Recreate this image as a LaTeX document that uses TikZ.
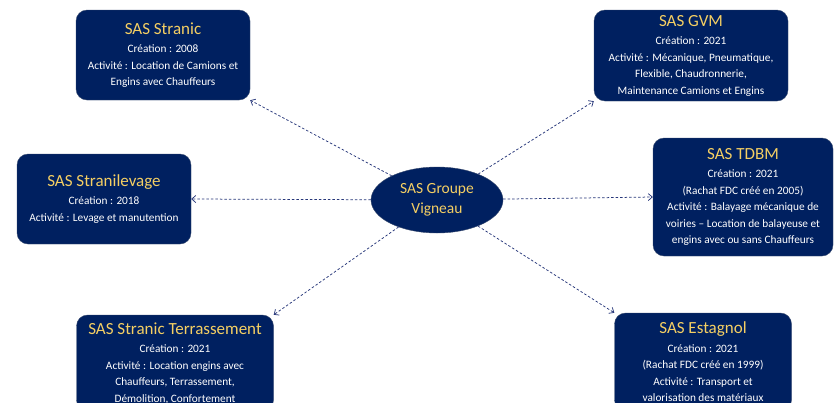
\documentclass[tikz,border=0pt]{standalone}
\usepackage{fontspec}
\setmainfont{Carlito}
\usetikzlibrary{shapes.geometric, arrows.meta}
\definecolor{navy}{HTML}{002060}
\definecolor{gold}{HTML}{F5CF63}
\definecolor{linkblue}{HTML}{27377A}
\tikzset{%
  company/.style={
    draw=navy!55!gray, fill=navy, rounded corners=11pt,
    text=white, align=center, inner sep=2pt,
    font=\fontsize{11.3}{16.5}\selectfont},
  holding/.style={
    ellipse, draw=navy!55!gray, fill=navy, text=gold, align=center,
    minimum width=132pt, minimum height=66pt, inner sep=0pt,
    font=\fontsize{15.5}{20}\selectfont},
  link/.style={draw=linkblue, line width=0.75pt, dash pattern=on 2.5pt off 2pt,
    -{Straight Barb[length=4pt, width=7pt, line width=0.75pt]}}
}
\newcommand{\coname}[1]{{\color{gold}\fontsize{17}{20}\selectfont #1}}

\begin{document}
\begin{tikzpicture}[x=1pt, y=-1pt]
		\useasboundingbox (0,0) rectangle (837,402);
		\clip (0,0) rectangle (837,402);
		\node [holding] (grp) at (437,200) {SAS Groupe\\Vigneau};
		\node [company, minimum width=174pt, minimum height=90pt] (stranic) at (163,55)
		  {\coname{SAS Stranic}\\[2pt] Création : 2008\\ Activité : Location de Camions et\\ Engins avec Chauffeurs};
		\node [company, minimum width=194pt, minimum height=91pt] (gvm) at (691,55.5)
		  {\coname{SAS GVM}\\[2pt] Création : 2021\\ Activité : Mécanique, Pneumatique,\\ Flexible, Chaudronnerie,\\ Maintenance Camions et Engins};
		\node [company, minimum width=174pt, minimum height=90pt] (levage) at (104,199)
		  {\coname{SAS Stranilevage}\\[2pt] Création : 2018\\ Activité : Levage et manutention};
		\node [company, minimum width=180pt, minimum height=118pt] (tdbm) at (743,197)
		  {\coname{SAS TDBM}\\[2pt] Création : 2021\\ (Rachat FDC créé en 2005)\\ Activité : Balayage mécanique de\\ voiries – Location de balayeuse et\\ engins avec ou sans Chauffeurs};
		\node [company, minimum width=197pt, minimum height=96pt] (terrass) at (175,363)
		  {\coname{SAS Stranic Terrassement}\\[2pt] Création : 2021\\ Activité : Location engins avec\\ Chauffeurs, Terrassement,\\ Démolition, Confortement};
		\node [company, minimum width=177pt, minimum height=98pt] (estagnol) at (703,362)
		  {\coname{SAS Estagnol}\\[2pt] Création : 2021\\ (Rachat FDC créé en 1999)\\ Activité : Transport et\\ valorisation des matériaux};
		\draw [link] (grp) -- (stranic.south east);
		\draw [link] (grp) -- (gvm.south west);
		\draw [link] (grp) -- (levage.east);
		\draw [link] (grp) -- (tdbm.west);
		\draw [link] (grp) -- (terrass.north east);
		\draw [link] (grp) -- (estagnol.north west);
	\end{tikzpicture}
\end{document}
